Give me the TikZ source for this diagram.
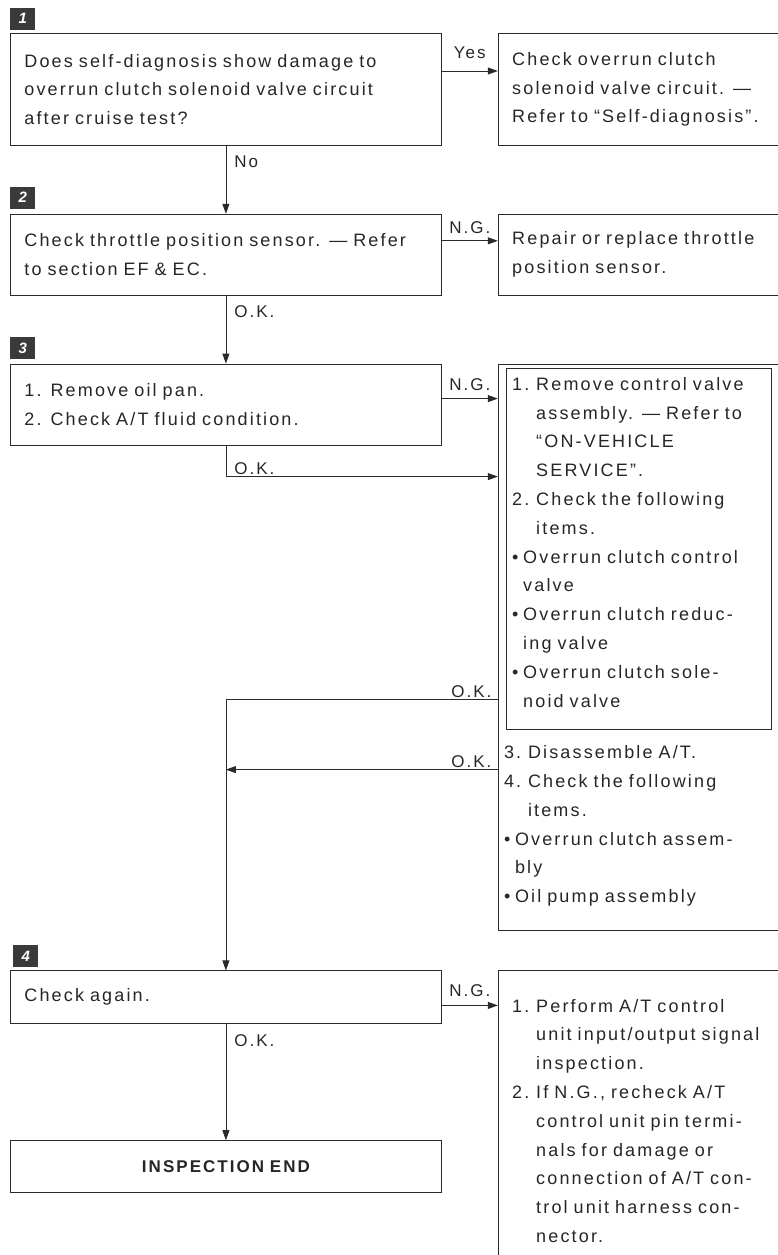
\documentclass[tikz,border=0pt]{standalone}
\usepackage{fontspec}
\setmainfont{Liberation Sans}[LetterSpace=12.0, WordSpace=1.5]
\usepackage{tikz}
\usetikzlibrary{
  arrows.meta,
  positioning,
  calc
}
\definecolor{Ink}{HTML}{2A2A2A}
\definecolor{BadgeGray}{HTML}{3A3A3A}
% hanging indents for numbered and bulleted lines
\newlength\numhang \setlength\numhang{24pt}
\newlength\dothang \setlength\dothang{11pt}
\newcommand\numitem[2]{\makebox[\numhang][l]{#1}#2}
\newcommand\numcont[1]{\hspace*{\numhang}#1}
\newcommand\dotitem[1]{\makebox[\dothang][l]{\textbullet}#1}
\newcommand\dotcont[1]{\hspace*{\dothang}#1}
\tikzset{
  % Left step box
  stepbox/.style={
    rectangle, draw=Ink, line width=0.8pt,
    minimum width=431pt, text width=403pt, inner xsep=14pt,
    align=left, text=black!85,
    font=\fontsize{18}{28.5}\selectfont
  },
  % Closing box
  endbox/.style={
    stepbox, align=center,
    font=\fontsize{17}{22}\selectfont\bfseries
  },
  % Right remedy box
  sidebox/.style={
    rectangle, draw=Ink, line width=0.8pt,
    minimum width=280pt, text width=252pt, inner xsep=14pt,
    align=left, text=black!85,
    font=\fontsize{18}{28.8}\selectfont
  },
  % Box inside a remedy box
  innerbox/.style={
    sidebox, minimum width=265pt, text width=253pt, inner xsep=6pt
  },
  % Loose text in a remedy box
  sidetext/.style={
    inner sep=0pt, text width=268pt, align=left, text=black!85,
    font=\fontsize{18}{28.8}\selectfont
  },
  % Step number badge
  badge/.style={
    rectangle, fill=BadgeGray, text=white, inner sep=0pt,
    minimum width=25pt, minimum height=22pt,
    font=\fontsize{15}{15}\selectfont\bfseries\itshape
  },
  % Arrow
  arr/.style={
    -{Triangle[length=10pt,width=7pt]},
    line width=0.8pt, color=Ink
  },
  % Edge label
  lbl/.style={font=\fontsize{17}{20}\selectfont, text=black!85, inner sep=2pt}
}

\begin{document}
\begin{tikzpicture}[x=1pt, y=-1pt, node distance=68pt]
  \useasboundingbox (0,0) rectangle (778,1255);

  \node[stepbox, minimum height=112pt, anchor=north west] (q1) at (10,33)
    {Does self-diagnosis show damage to\\overrun clutch solenoid valve circuit\\after cruise test?};
  \node[stepbox, minimum height=81pt, below=68pt of q1] (q2)
    {Check throttle position sensor. — Refer\\to section EF \& EC.};
  \node[stepbox, minimum height=81pt, below=68pt of q2] (q3)
    {1. Remove oil pan.\\2. Check A/T fluid condition.};
  \node[stepbox, minimum height=53pt, below=525pt of q3] (q4) {Check again.};
  \node[endbox, minimum height=52pt, below=116pt of q4] (done) {INSPECTION END};

  \node[badge, above=3pt of q1.north west, anchor=south west] (b1) {1};
  \node[badge, above=5pt of q2.north west, anchor=south west] (b2) {2};
  \node[badge, above=4pt of q3.north west, anchor=south west] (b3) {3};
  \node[badge, above=3pt of q4.north west, anchor=south west, xshift=3pt] (b4) {4};

  \node[sidebox, minimum height=112pt, right=56pt of q1] (r1)
    {Check overrun clutch\\solenoid valve circuit. —\\Refer to “Self-diagnosis”.};
  \node[sidebox, minimum height=81pt, right=56pt of q2] (r2)
    {Repair or replace throttle\\position sensor.};
  \node[sidebox, minimum height=566pt, right=56pt of q3.north east, anchor=north west] (r3) {};
  \node[innerbox, minimum height=361pt, below right=4pt and 8pt of r3.north west] (r3a)
    {\numitem{1.}{Remove control valve}\\
     \numcont{assembly. — Refer to}\\
     \numcont{“ON-VEHICLE}\\
     \numcont{SERVICE”.}\\
     \numitem{2.}{Check the following}\\
     \numcont{items.}\\
     \dotitem{Overrun clutch control}\\
     \dotcont{valve}\\
     \dotitem{Overrun clutch reduc-}\\
     \dotcont{ing valve}\\
     \dotitem{Overrun clutch sole-}\\
     \dotcont{noid valve}\\[-16pt]\mbox{}};
  \node[sidetext, below right=16pt and -2pt of r3a.south west] (r3b)
    {\numitem{3.}{Disassemble A/T.}\\
     \numitem{4.}{Check the following}\\
     \numcont{items.}\\
     \dotitem{Overrun clutch assem-}\\
     \dotcont{bly}\\
     \dotitem{Oil pump assembly}};
  \node[sidebox, minimum height=300pt, right=56pt of q4.north east, anchor=north west] (r4)
    {\numitem{1.}{Perform A/T control}\\
     \numcont{unit input/output signal}\\
     \numcont{inspection.}\\
     \numitem{2.}{If N.G., recheck A/T}\\
     \numcont{control unit pin termi-}\\
     \numcont{nals for damage or}\\
     \numcont{connection of A/T con-}\\
     \numcont{trol unit harness con-}\\
     \numcont{nector.}};

  \coordinate (okin) at ([yshift=-113pt]r3.north west);
  \coordinate (okA)  at ([yshift=-336pt]r3.north west);
  \coordinate (okB)  at ([yshift=-406pt]r3.north west);

  \draw[arr] (q1) -- node[lbl, anchor=north west, pos=0, xshift=6pt, yshift=-8pt]{No} (q2);
  \draw[arr] ([yshift=-38pt]q1.north east) -- node[lbl, above=10pt]{Yes} ([yshift=-38pt]r1.north west);
  \draw[arr] (q2) -- node[lbl, anchor=north west, pos=0, xshift=6pt, yshift=-8pt]{O.K.} (q3);
  \draw[arr] ([yshift=-27pt]q2.north east) -- node[lbl, above=5pt]{N.G.} ([yshift=-27pt]r2.north west);
  \draw[arr] ([yshift=-35pt]q3.north east) -- node[lbl, above=6pt]{N.G.} ([yshift=-35pt]r3.north west);
  \draw[arr] (q3) |- node[lbl, anchor=south west, pos=0.5, xshift=6pt]{O.K.} (okin);
  \draw[arr] (okA) -| node[lbl, anchor=south east, pos=0, xshift=-4pt]{O.K.} (q4);
  \draw[arr] (okB) -- node[lbl, anchor=south east, pos=0, xshift=-4pt]{O.K.} (okB -| q4.north);
  \draw[arr] ([yshift=-35pt]q4.north east) -- node[lbl, above=6pt]{N.G.} ([yshift=-35pt]r4.north west);
  \draw[arr] (q4) -- node[lbl, anchor=north west, pos=0, xshift=6pt, yshift=-8pt]{O.K.} (done);
\end{tikzpicture}
\end{document}
